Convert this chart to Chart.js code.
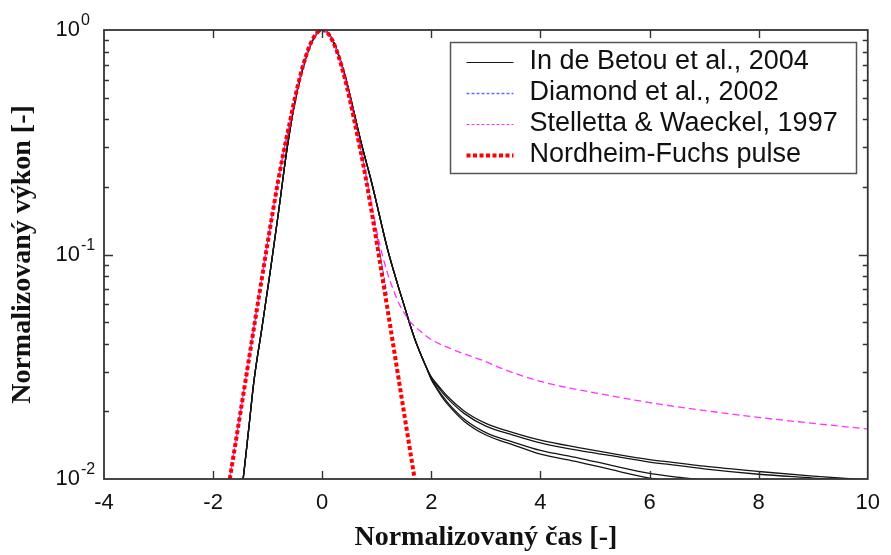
<!DOCTYPE html>
<html><head><meta charset="utf-8">
<script src="https://cdn.jsdelivr.net/npm/chart.js@4.4.1/dist/chart.umd.min.js"></script>
<style>html,body{margin:0;padding:0;background:#fff}canvas{display:block}</style>
</head><body>
<canvas id="c" width="891" height="555"></canvas>
<script>
// ---- axis ticks ----
const xTicks = [-4, -2, 0, 2, 4, 6, 8, 10];
const yTicks = [0.01, 0.1, 1];
const yTickBase = ['10', '10', '10'];
const yTickExponents = ['-2', '-1', '0'];
const yMinorTicks = [0.02,0.03,0.04,0.05,0.06,0.07,0.08,0.09,0.2,0.3,0.4,0.5,0.6,0.7,0.8,0.9];

// ---- series labels ----
const seriesLabels = ['In de Betou et al., 2004', 'Diamond et al., 2002', 'Stelletta & Waeckel, 1997', 'Nordheim-Fuchs pulse'];

// ---- Nordheim-Fuchs pulse (red dotted) ----
const tNF = [-1.75,-1.7,-1.6,-1.5,-1.4,-1.3,-1.2,-1.1,-1.0,-0.9,-0.8,-0.7,-0.6,-0.5,-0.4,-0.3,-0.2,-0.1,-0.05,0,0.05,0.1,0.2,0.3,0.4,0.5,0.6,0.7,0.8,0.9,1.0,1.1,1.2,1.3,1.4,1.5,1.6,1.7,1.75];
const pNF = [0.0082,0.0098,0.0139,0.0197,0.0280,0.0398,0.0565,0.080,0.113,0.158,0.218,0.292,0.382,0.498,0.629,0.763,0.884,0.969,0.992,1.0,0.992,0.969,0.884,0.763,0.629,0.498,0.382,0.292,0.218,0.158,0.113,0.080,0.0565,0.0398,0.0280,0.0197,0.0139,0.0098,0.0082];

// ---- Diamond et al. 2002 (blue dashed) ----
const tDiamond = [-1.7,-1.6,-1.5,-1.4,-1.3,-1.2,-1.1,-1.0,-0.9,-0.8,-0.7,-0.6,-0.5,-0.4,-0.3,-0.2,-0.1,0,0.1,0.2,0.3,0.4,0.5,0.6,0.7,0.8,0.9,1.0,1.1,1.2];
const pDiamond = [0.0099,0.0140,0.0198,0.0282,0.0400,0.0567,0.081,0.114,0.159,0.219,0.293,0.383,0.499,0.630,0.764,0.885,0.970,1.0,0.970,0.886,0.766,0.633,0.503,0.388,0.298,0.225,0.166,0.121,0.088,0.064];

// ---- Stelletta & Waeckel 1997 (magenta dashed) ----
const tStelletta = [-1.7,-1.6,-1.5,-1.4,-1.3,-1.2,-1.1,-1.0,-0.9,-0.8,-0.7,-0.6,-0.5,-0.4,-0.3,-0.2,-0.1,0,0.1,0.2,0.3,0.4,0.5,0.6,0.7,0.8,0.9,1.0,1.1,1.2,1.3,1.4,1.5,1.6,1.7,1.8,2.0,2.4,3.0,3.3,4.0,5.0,6.0,7.0,8.0,9.0,10.0];
const pStelletta = [0.0099,0.0140,0.0198,0.0281,0.0399,0.0566,0.080,0.113,0.158,0.218,0.292,0.382,0.498,0.629,0.763,0.884,0.969,1.0,0.969,0.886,0.766,0.634,0.504,0.390,0.296,0.226,0.170,0.127,0.100,0.082,0.070,0.061,0.055,0.0505,0.0478,0.0455,0.0418,0.0377,0.0333,0.0310,0.0272,0.0242,0.0219,0.0202,0.0188,0.0177,0.0167];

// ---- In de Betou et al. 2004 (four black curves, shared peak) ----
const tBetouHead = [-1.5,-1.45,-1.35,-1.25,-1.1,-0.95,-0.8,-0.65,-0.5,-0.4,-0.3,-0.2,-0.1,0,0.1,0.2,0.3,0.4,0.5,0.6,0.7,0.8,0.9,1.0,1.1,1.2,1.3,1.4,1.5,1.6,1.7,1.8,1.9];
const pBetouHead = [0.0082,0.0100,0.0165,0.0275,0.048,0.085,0.155,0.29,0.48,0.615,0.752,0.875,0.965,1.0,0.972,0.89,0.775,0.648,0.522,0.412,0.325,0.262,0.212,0.168,0.132,0.105,0.086,0.0712,0.0595,0.0495,0.0418,0.0362,0.0318];
const tBetouTail = [2.0,2.1,2.2,2.3,2.6,3.0,3.5,4.0,4.7,5.3,6.0,6.5,7.0,8.0,9.0,10.0];
const pBetouTailA = [0.0285,0.0265,0.0248,0.0233,0.0201,0.0177,0.0161,0.0149,0.0138,0.0130,0.0122,0.0118,0.0114,0.0108,0.0103,0.0099];
const pBetouTailB = [0.0282,0.0261,0.0243,0.0228,0.0196,0.0172,0.0157,0.0145,0.0134,0.0127,0.0119,0.0115,0.0111,0.0105,0.0101,0.0097];
const pBetouTailC = [0.0279,0.0255,0.0235,0.0219,0.0185,0.0161,0.0146,0.0134,0.0124,0.0115,0.0106,0.0102,0.0099,0.0093,0.0088,0.0084];
const pBetouTailD = [0.0277,0.0252,0.0231,0.0215,0.0181,0.0157,0.0142,0.0129,0.0119,0.0110,0.0101,0.0097,0.0094,0.0088,0.0083,0.0079];

// ---- build datasets ----
const pts = (t, p) => t.map((x, i) => ({x: x, y: p[i]}));
const tBetou = tBetouHead.concat(tBetouTail);
const betouTails = [pBetouTailA, pBetouTailB, pBetouTailC, pBetouTailD];

const common = {pointRadius: 0, pointHoverRadius: 0, fill: false, cubicInterpolationMode: 'monotone'};
const datasets = [];
datasets.push(Object.assign({}, common, {label: seriesLabels[3], data: pts(tNF, pNF), borderColor: '#ff0000', borderWidth: 4, borderDash: [4, 2.5], order: 0, inLegend: 3, legendColor: '#ff0000', legendWidth: 4, legendDash: [4, 2.5]}));
datasets.push(Object.assign({}, common, {label: seriesLabels[2], data: pts(tStelletta, pStelletta), borderColor: '#ff33ff', borderWidth: 1.3, borderDash: [7, 4], order: 1, inLegend: 2, legendColor: '#ff33ff', legendWidth: 1.2, legendDash: [3, 2]}));
datasets.push(Object.assign({}, common, {label: seriesLabels[1], data: pts(tDiamond, pDiamond), borderColor: '#5050ff', borderWidth: 1.2, borderDash: [4, 3], order: 2, inLegend: 1, legendColor: '#6a6aff', legendWidth: 1.4, legendDash: [3, 2]}));
betouTails.forEach((tail, k) => {
  datasets.push(Object.assign({}, common, {label: seriesLabels[0], data: pts(tBetou, pBetouHead.concat(tail)), borderColor: '#151515', borderWidth: 1.3, order: 3 + k, inLegend: k === 0 ? 0 : -1, legendColor: '#151515', legendWidth: 1, legendDash: []}));
});

const fontSans = '"Liberation Sans", Arial, Helvetica, sans-serif';
const fontSerif = '"Liberation Serif", "Times New Roman", Times, serif';
Chart.defaults.font.family = fontSans;
const yLabelPadding = 24;

const framePlugin = {
  id: 'frame',
  afterDatasetsDraw(chart) {
    const {ctx, chartArea: a, scales: {x, y}} = chart;
    ctx.save();
    ctx.strokeStyle = '#333';
    ctx.lineWidth = 1.8;
    ctx.strokeRect(a.left, a.top, a.right - a.left, a.bottom - a.top);
    ctx.lineWidth = 1.4;
    ctx.beginPath();
    xTicks.forEach(v => {
      if (v <= x.min || v >= x.max) return;
      const px = Math.round(x.getPixelForValue(v)) + 0.5;
      ctx.moveTo(px, a.bottom); ctx.lineTo(px, a.bottom - 8);
      ctx.moveTo(px, a.top); ctx.lineTo(px, a.top + 8);
    });
    yTicks.forEach(v => {
      if (v <= y.min || v >= y.max) return;
      const py = Math.round(y.getPixelForValue(v)) + 0.5;
      ctx.moveTo(a.left, py); ctx.lineTo(a.left + 9, py);
      ctx.moveTo(a.right, py); ctx.lineTo(a.right - 9, py);
    });
    yMinorTicks.forEach(v => {
      const py = Math.round(y.getPixelForValue(v)) + 0.5;
      ctx.moveTo(a.left, py); ctx.lineTo(a.left + 5, py);
      ctx.moveTo(a.right, py); ctx.lineTo(a.right - 5, py);
    });
    ctx.stroke();
    // exponents of the y tick labels (10^n)
    ctx.fillStyle = '#111';
    ctx.font = '16px ' + fontSans;
    ctx.textAlign = 'left';
    ctx.textBaseline = 'middle';
    yTicks.forEach((v, i) => {
      const py = y.getPixelForValue(v);
      ctx.fillText(yTickExponents[i], a.left - yLabelPadding + 1, py - 9);
    });
    ctx.restore();
  }
};

const legendPlugin = {
  id: 'boxLegend',
  afterDraw(chart) {
    const {ctx, chartArea: a} = chart;
    const items = chart.data.datasets.filter(d => d.inLegend >= 0).sort((p, q) => p.inLegend - q.inLegend);
    ctx.save();
    ctx.font = '27px ' + fontSans;
    const maxW = Math.max(...items.map(d => ctx.measureText(d.label).width));
    const rowH = 31.3;
    const w = Math.round(16 + 47 + 16 + maxW + 19);
    const h = Math.round(19 + (items.length - 1) * rowH + 18);
    const right = Math.round(a.right - 12) + 0.5, top = Math.round(a.top + 12) + 0.5, left = right - w;
    ctx.fillStyle = '#fff';
    ctx.fillRect(left, top, w, h);
    ctx.strokeStyle = '#555';
    ctx.lineWidth = 1.5;
    ctx.strokeRect(left, top, w, h);
    items.forEach((d, i) => {
      const cy = Math.round(top + 19 + i * rowH) + 0.5;
      ctx.strokeStyle = d.legendColor;
      ctx.lineWidth = d.legendWidth;
      ctx.setLineDash(d.legendDash);
      ctx.beginPath();
      ctx.moveTo(left + 16, cy); ctx.lineTo(left + 63, cy);
      ctx.stroke();
      ctx.setLineDash([]);
      ctx.fillStyle = '#111';
      ctx.textBaseline = 'middle';
      ctx.textAlign = 'left';
      ctx.fillText(d.label, left + 79, cy - 1);
    });
    ctx.restore();
  }
};

new Chart(document.getElementById('c'), {
  type: 'line',
  data: {datasets: datasets},
  options: {
    responsive: false,
    animation: false,
    devicePixelRatio: 1,
    layout: {padding: {top: 30, right: 17, left: 0, bottom: 0}},
    plugins: {legend: {display: false}, tooltip: {enabled: false}},
    scales: {
      x: {
        type: 'linear', min: -4, max: 10,
        afterBuildTicks: s => { s.ticks = xTicks.map(v => ({value: v})); },
        afterFit: s => { s.height = 76; },
        ticks: {autoSkip: false, maxRotation: 0, padding: 11, color: '#111', font: {size: 22}, callback: (v, i) => String(xTicks[i])},
        grid: {display: false, drawTicks: false},
        border: {display: false},
        title: {display: true, text: 'Normalizovaný čas [-]', color: '#111', font: {family: fontSerif, size: 28, weight: 'bold'}, padding: {top: 0, bottom: 0}}
      },
      y: {
        type: 'logarithmic', min: 0.01, max: 1,
        afterBuildTicks: s => { s.ticks = yTicks.map(v => ({value: v})); },
        afterFit: s => { s.width = 104; s.paddingTop = 14; s.paddingBottom = 14; },
        ticks: {autoSkip: false, padding: yLabelPadding, color: '#111', font: {size: 22}, callback: (v, i) => yTickBase[i]},
        grid: {display: false, drawTicks: false},
        border: {display: false},
        title: {display: true, text: 'Normalizovaný výkon [-]', color: '#111', font: {family: fontSerif, size: 28, weight: 'bold'}, padding: {top: 6, bottom: 0}}
      }
    }
  },
  plugins: [framePlugin, legendPlugin]
});
</script>
</body></html>
